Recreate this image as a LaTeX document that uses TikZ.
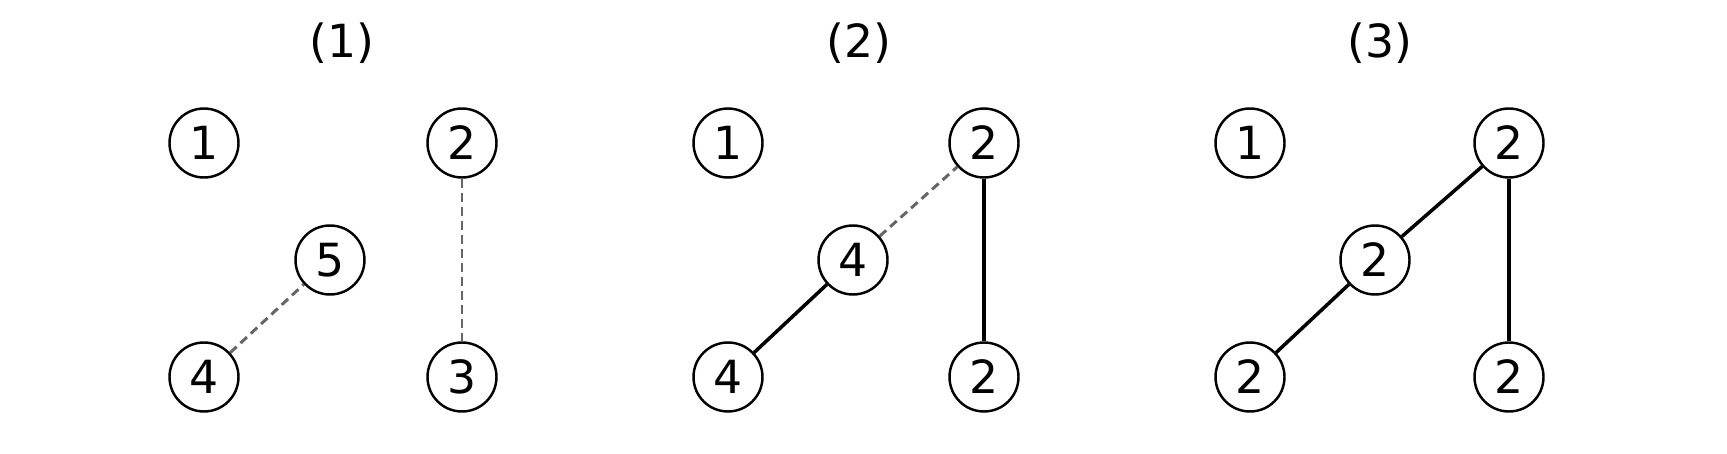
\documentclass[tikz,border=0pt]{standalone}
\usepackage{fontspec}
\setmainfont{DejaVu Sans}
\tikzset{
  vertex/.style={draw, circle, line width=1.4pt, minimum size=1.38cm, inner sep=0pt, font=\fontsize{26}{30}\selectfont},
  title/.style={font=\fontsize{26}{30}\selectfont},
  tentative/.style={draw, black!60, dashed, dash pattern=on 5pt off 3pt, line width=1.7pt},
  merged/.style={draw, line width=2pt}
}
\begin{document}
\begin{tikzpicture}
\useasboundingbox (0,0) rectangle (34.54,9.06);

% (1)
\node[title] (t1) at (6.84,8.2) {(1)};
\node[vertex] (a1) at (4.08,6.2) {1};
\node[vertex] (a2) at (9.24,6.2) {2};
\node[vertex] (a5) at (6.6,3.86) {5};
\node[vertex] (a4) at (4.08,1.52) {4};
\node[vertex] (a3) at (9.24,1.52) {3};

\path[tentative] (a4) -- (a5);
\path[tentative] (a2) -- (a3);

% (2)
\node[title] (t2) at (17.18,8.2) {(2)};
\node[vertex] (b1) at (14.56,6.2) {1};
\node[vertex] (b2) at (19.68,6.2) {2};
\node[vertex] (b5) at (17.06,3.86) {4};
\node[vertex] (b4) at (14.56,1.52) {4};
\node[vertex] (b3) at (19.68,1.52) {2};

\path[merged] (b4) -- (b5);
\path[merged] (b2) -- (b3);
\path[tentative] (b5) -- (b2);

% (3)
\node[title] (t3) at (27.6,8.2) {(3)};
\node[vertex] (c1) at (25.0,6.2) {1};
\node[vertex] (c2) at (30.18,6.2) {2};
\node[vertex] (c5) at (27.5,3.86) {2};
\node[vertex] (c4) at (25.0,1.52) {2};
\node[vertex] (c3) at (30.18,1.52) {2};

\path[merged] (c4) -- (c5);
\path[merged] (c2) -- (c3);
\path[merged] (c5) -- (c2);
\end{tikzpicture}
\end{document}
